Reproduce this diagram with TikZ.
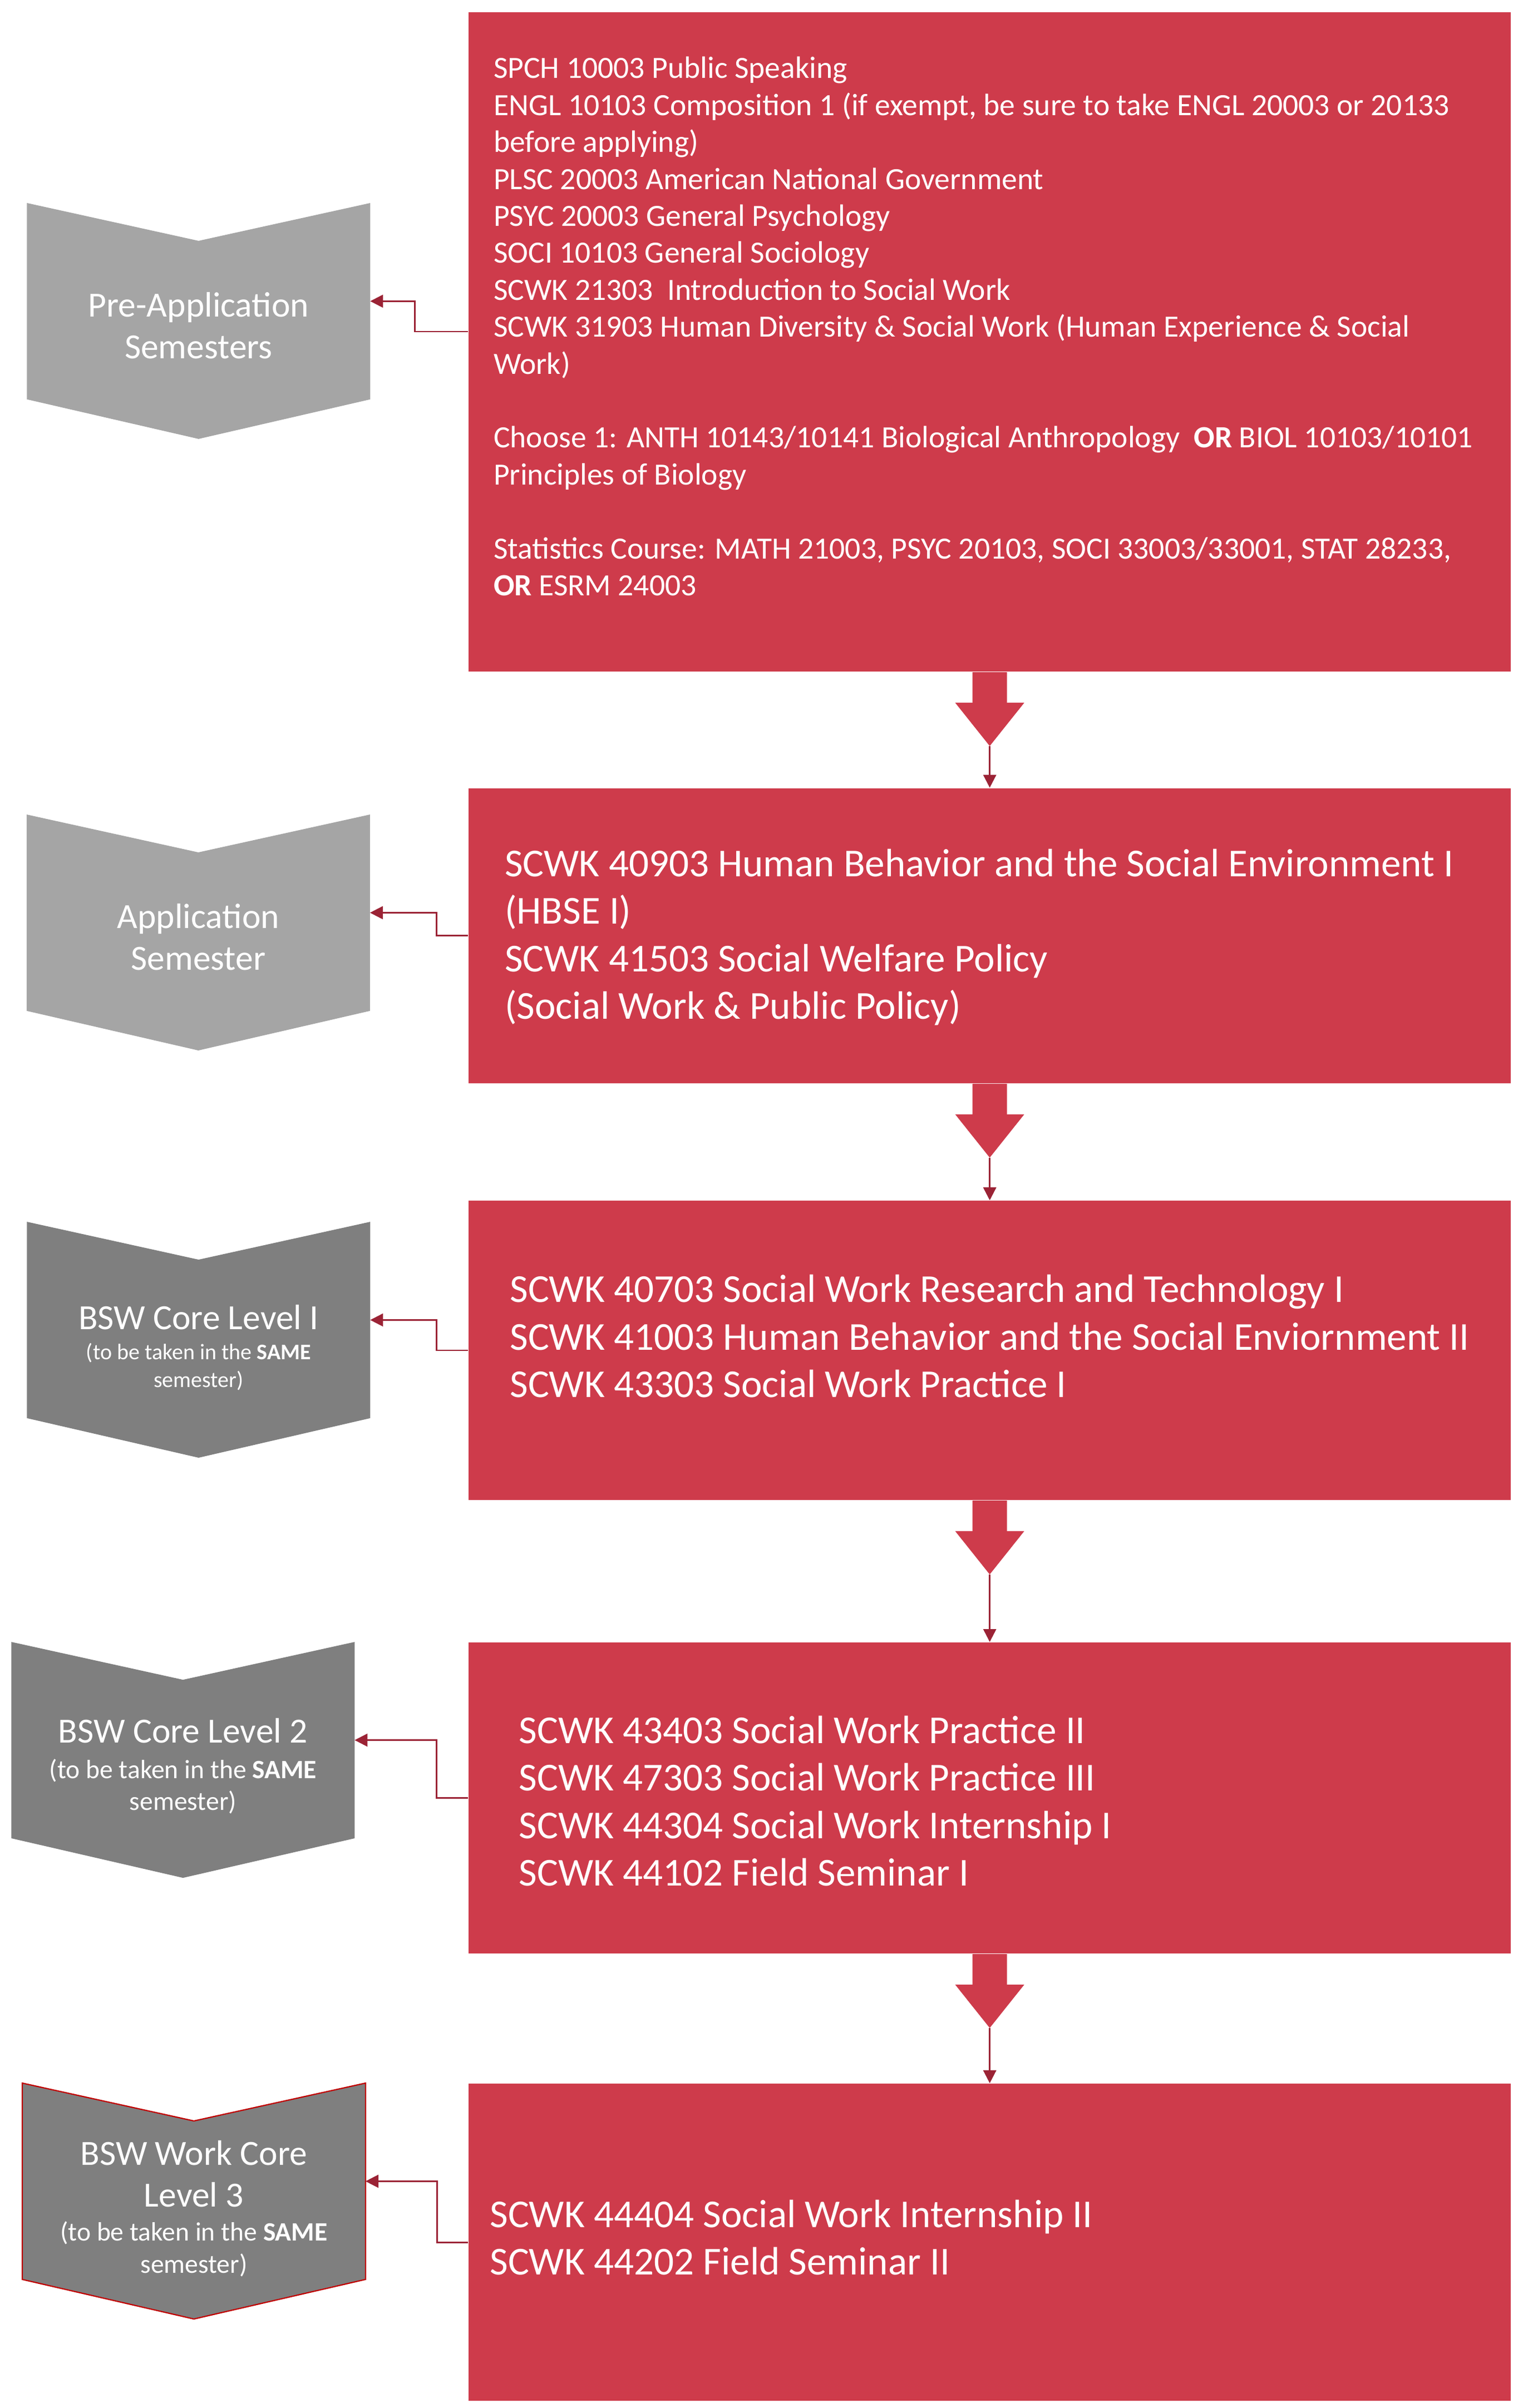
\documentclass[tikz,border=0pt]{standalone}
\usepackage{fontspec}
\setmainfont{Carlito}
\usetikzlibrary{arrows.meta, backgrounds}

\definecolor{coursered}{HTML}{CE3B4B}
\definecolor{linkred}{HTML}{9B2335}
\definecolor{palegrey}{HTML}{A5A5A5}
\definecolor{darkgrey}{HTML}{7F7F7F}
\definecolor{edgered}{HTML}{C00000}

\newcommand{\phasetitle}{\fontsize{14.3}{16.9}\selectfont}

\tikzset{
  course/.style={fill=coursered, minimum width=421.4pt, inner sep=0pt},
  coursetext/.style={text=white, align=left, inner sep=0pt, anchor=west,
    font=\fontsize{16}{19.2}\selectfont},
  phase/.style={minimum width=138.4pt, minimum height=95pt, inner sep=0pt},
  phasetext/.style={text=white, align=flush center, text width=136pt,
    inner sep=0pt, font=\phasetitle},
  lightphase/.style={fill=palegrey},
  darkphase/.style={fill=darkgrey},
  edgedphase/.style={fill=darkgrey, draw=edgered, line width=0.5pt},
  link/.style={draw=linkred, line width=0.6pt,
    -{Triangle[length=5.2pt, width=5.2pt]}},
}

\begin{document}
\begin{tikzpicture}[x=1pt, y=1pt]
\useasboundingbox (0,0) rectangle (615.8,-973.8);

% course boxes
\node[course, minimum height=266.6pt] (b1) at (400.2,-138.3) {};
\node[course, minimum height=119.3pt] (b2) at (400.2,-378.4) {};
\node[course, minimum height=121.0pt] (b3) at (400.2,-546.1) {};
\node[course, minimum height=125.8pt] (b4) at (400.2,-727.1) {};
\node[course, minimum height=128.3pt] (b5) at (400.2,-906.8) {};

\node[coursetext, font=\fontsize{12.5}{14.94}\selectfont] (t1)
  at ([xshift=10.1pt, yshift=6.3pt]b1.west)
  {SPCH 10003 Public Speaking\\
   ENGL 10103 Composition 1 (if exempt, be sure to take ENGL 20003 or 20133\\
   before applying)\\
   PLSC 20003 American National Government\\
   PSYC 20003 General Psychology\\
   SOCI 10103 General Sociology\\
   SCWK 21303\ \ Introduction to Social Work\\
   SCWK 31903 Human Diversity \& Social Work (Human Experience \& Social\\
   Work)\\[14.94pt]
   Choose 1: ANTH 10143/10141 Biological Anthropology\ \ \textbf{OR} BIOL 10103/10101\\
   Principles of Biology\\[14.94pt]
   Statistics Course: MATH 21003, PSYC 20103, SOCI 33003/33001, STAT 28233,\\
   \textbf{OR} ESRM 24003};
\node[coursetext] (t2) at ([xshift=14.6pt, yshift=-0.6pt]b2.west)
  {SCWK 40903 Human Behavior and the Social Environment I\\
   (HBSE I)\\
   SCWK 41503 Social Welfare Policy\\
   (Social Work \& Public Policy)};
\node[coursetext] (t3) at ([xshift=16.7pt, yshift=5.7pt]b3.west)
  {SCWK 40703 Social Work Research and Technology I\\
   SCWK 41003 Human Behavior and the Social Enviornment II\\
   SCWK 43303 Social Work Practice I};
\node[coursetext] (t4) at ([xshift=20.3pt, yshift=-1.2pt]b4.west)
  {SCWK 43403 Social Work Practice II\\
   SCWK 47303 Social Work Practice III\\
   SCWK 44304 Social Work Internship I\\
   SCWK 44102 Field Seminar I};
\node[coursetext] (t5) at ([xshift=8.6pt, yshift=1.9pt]b5.west)
  {SCWK 44404 Social Work Internship II\\
   SCWK 44202 Field Seminar II};

% semester chevrons
\node[phase] (c1) at (80.3,-129.8) {};
\node[phase] (c2) at (80.2,-377.1) {};
\node[phase] (c3) at (80.3,-541.8) {};
\node[phase] (c4) at (74.0,-711.7) {};
\node[phase] (c5) at (78.4,-890.1) {};

\node[phasetext] (l1) at ([yshift=-1.9pt]c1.center) {Pre-Application\\ Semesters};
\node[phasetext] (l2) at ([yshift=-1.9pt]c2.center) {Application\\ Semester};
\node[phasetext] (l3) at ([yshift=-3.1pt]c3.center) {BSW Core Level I\par\vskip1pt
  {\fontsize{9}{11.2}\selectfont (to be taken in the \textbf{SAME}\\ semester)\par}};
\node[phasetext] (l4) at ([yshift=-2.5pt]c4.center) {BSW Core Level 2\par\vskip1.5pt
  {\fontsize{10.7}{12.8}\selectfont (to be taken in the \textbf{SAME}\\ semester)\par}};
\node[phasetext] (l5) at ([yshift=-3.1pt]c5.center) {BSW Work Core\\ Level 3\par\vskip0.7pt
  {\fontsize{10.7}{13}\selectfont (to be taken in the \textbf{SAME}\\ semester)\par}};

\begin{scope}[on background layer]
  \foreach \c/\s in {c1/lightphase, c2/lightphase, c3/darkphase, c4/darkphase, c5/edgedphase}
    \path[\s] (\c.north west) -- ([yshift=-15.3pt]\c.north) -- (\c.north east)
      -- ([yshift=16pt]\c.south east) -- (\c.south) -- ([yshift=16pt]\c.south west) -- cycle;
\end{scope}

% block arrows between the boxes
\foreach \a/\b in {b1/b2, b2/b3, b3/b4, b4/b5} {
  \fill[coursered] (\a.south) ++(-6.98,0) -- ++(0,-12.4) -- ++(-6.98,0)
    -- ++(13.95,-17.5) -- ++(13.95,17.5) -- ++(-6.98,0) -- ++(0,12.4) -- cycle;
  \coordinate (tip-\a) at ([yshift=-29.9pt]\a.south);
  \draw[link] (tip-\a) -- (\b.north);
}

% links to the chevrons
\foreach \b/\c/\dy/\ex in {b1/c1/4.2/21.6, b2/c2/0/12.8, b3/c3/0/12.8, b4/c4/0/12.8, b5/c5/0/12.6}
  \draw[link] ([yshift=\dy pt]\b.west) -- ++(-\ex,0) |- ([yshift=8pt]\c.east);
\end{tikzpicture}
\end{document}
